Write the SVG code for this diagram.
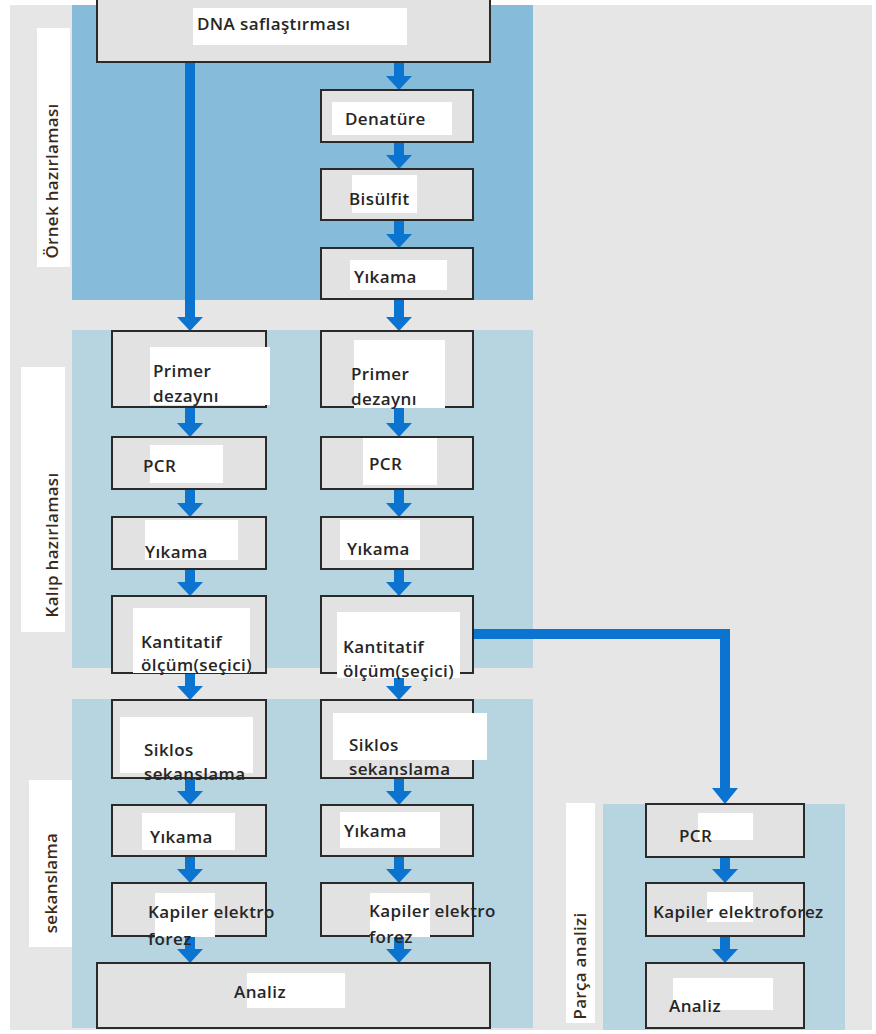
<svg xmlns="http://www.w3.org/2000/svg" width="876" height="1034" viewBox="0 0 876 1034">
<defs>
<style>
.bg{fill:#e6e6e6}
.p1{fill:#86bcd9}
.p2{fill:#b7d4e1}
.box{fill:#e2e2e2;stroke:#2a2a2a;stroke-width:2}
.patch{fill:#ffffff}
.t{font-family:"Open Sans","DejaVu Sans",sans-serif;font-size:17px;font-weight:600;letter-spacing:0.4px;fill:#262626}
.lab{font-family:"Open Sans","DejaVu Sans",sans-serif;font-size:17px;font-weight:600;letter-spacing:0.3px;fill:#3a2a1a}
.sh{stroke:#0b73d0;stroke-width:10;fill:none}
.hd{fill:#0b73d0}
</style>
</defs>
<rect x="0" y="0" width="876" height="1034" fill="#ffffff"/>
<rect class="bg" x="10" y="5" width="862" height="1025"/>
<g id="panels">
<rect class="p1" x="72" y="5" width="461" height="295"/>
<rect class="p2" x="72" y="330" width="461" height="338"/>
<rect class="p2" x="72" y="699" width="461" height="329"/>
<rect class="p2" x="603" y="804" width="242" height="226"/>
</g>
<g id="connectors">
<path class="sh" d="M190,62 V317"/><path class="hd" d="M177,317 H203 L190,331 Z"/>
<path class="sh" d="M399,62 V76"/><path class="hd" d="M386,76 H412 L399,90 Z"/>
<path class="sh" d="M399,142 V155"/><path class="hd" d="M386,155 H412 L399,169 Z"/>
<path class="sh" d="M399,220 V234"/><path class="hd" d="M386,234 H412 L399,248 Z"/>
<path class="sh" d="M399,299 V317"/><path class="hd" d="M386,317 H412 L399,331 Z"/>
<path class="sh" d="M190,407 V423"/><path class="hd" d="M177,423 H203 L190,437 Z"/>
<path class="sh" d="M399,407 V423"/><path class="hd" d="M386,423 H412 L399,437 Z"/>
<path class="sh" d="M190,489 V503"/><path class="hd" d="M177,503 H203 L190,517 Z"/>
<path class="sh" d="M399,489 V503"/><path class="hd" d="M386,503 H412 L399,517 Z"/>
<path class="sh" d="M190,569 V582"/><path class="hd" d="M177,582 H203 L190,596 Z"/>
<path class="sh" d="M399,569 V582"/><path class="hd" d="M386,582 H412 L399,596 Z"/>
<path class="sh" d="M190,673 V686"/><path class="hd" d="M177,686 H203 L190,700 Z"/>
<path class="sh" d="M399,673 V686"/><path class="hd" d="M386,686 H412 L399,700 Z"/>
<path class="sh" d="M190,778 V791"/><path class="hd" d="M177,791 H203 L190,805 Z"/>
<path class="sh" d="M399,778 V791"/><path class="hd" d="M386,791 H412 L399,805 Z"/>
<path class="sh" d="M190,856 V869"/><path class="hd" d="M177,869 H203 L190,883 Z"/>
<path class="sh" d="M399,856 V869"/><path class="hd" d="M386,869 H412 L399,883 Z"/>
<path class="sh" d="M190,936 V949"/><path class="hd" d="M177,949 H203 L190,963 Z"/>
<path class="sh" d="M399,936 V949"/><path class="hd" d="M386,949 H412 L399,963 Z"/>
<path class="sh" d="M473,634 H725 V788"/><path class="hd" d="M712,788 H738 L725,804 Z"/>
<path class="sh" d="M725,857 V869"/><path class="hd" d="M712,869 H738 L725,883 Z"/>
<path class="sh" d="M725,936 V949"/><path class="hd" d="M712,949 H738 L725,963 Z"/>
</g>
<g id="labels">
<rect class="patch" x="37" y="28" width="33" height="239"/>
<text class="lab" transform="translate(58,181) rotate(-90)" text-anchor="middle">Örnek hazırlaması</text>
<rect class="patch" x="21" y="367" width="44" height="265"/>
<text class="lab" transform="translate(58,545) rotate(-90)" text-anchor="middle">Kalıp hazırlaması</text>
<rect class="patch" x="29" y="780" width="43" height="167"/>
<text class="lab" transform="translate(57,883) rotate(-90)" text-anchor="middle">sekanslama</text>
<rect class="patch" x="566" y="803" width="29" height="220"/>
<text class="lab" transform="translate(586,966) rotate(-90)" text-anchor="middle">Parça analizi</text>
</g>
<g id="n-dna"><rect class="box" x="97" y="-4" width="393" height="66"/><rect class="patch" x="193" y="8" width="214" height="37"/><text class="t" x="197" y="30">DNA saflaştırması</text></g>
<g id="n-denature"><rect class="box" x="321" y="90" width="152" height="52"/><rect class="patch" x="332" y="102" width="120" height="33"/><text class="t" x="345" y="125">Denatüre</text></g>
<g id="n-bisulfit"><rect class="box" x="321" y="169" width="152" height="51"/><rect class="patch" x="352" y="175" width="65" height="38"/><text class="t" x="349" y="205">Bisülfit</text></g>
<g id="n-yikama1"><rect class="box" x="321" y="248" width="152" height="51"/><rect class="patch" x="350" y="260" width="97" height="30"/><text class="t" x="354" y="283">Yıkama</text></g>
<g id="n-primer-l"><rect class="box" x="112" y="331" width="154" height="76"/><rect class="patch" x="150" y="347" width="120" height="58"/><text class="t" x="153" y="377">Primer</text><text class="t" x="153" y="402">dezaynı</text></g>
<g id="n-primer-r"><rect class="box" x="321" y="331" width="152" height="76"/><rect class="patch" x="354" y="340" width="91" height="68"/><text class="t" x="351" y="380">Primer</text><text class="t" x="351" y="405">dezaynı</text></g>
<g id="n-pcr-l"><rect class="box" x="112" y="437" width="154" height="52"/><rect class="patch" x="150" y="445" width="73" height="38"/><text class="t" x="143" y="472">PCR</text></g>
<g id="n-pcr-r"><rect class="box" x="321" y="437" width="152" height="52"/><rect class="patch" x="363" y="438" width="74" height="47"/><text class="t" x="369" y="470">PCR</text></g>
<g id="n-yikama-l"><rect class="box" x="112" y="517" width="154" height="52"/><rect class="patch" x="145" y="520" width="93" height="40"/><text class="t" x="145" y="558">Yıkama</text></g>
<g id="n-yikama-r"><rect class="box" x="321" y="517" width="152" height="52"/><rect class="patch" x="340" y="520" width="80" height="40"/><text class="t" x="347" y="555">Yıkama</text></g>
<g id="n-kant-l"><rect class="box" x="112" y="596" width="154" height="77"/><rect class="patch" x="133" y="608" width="117" height="65"/><text class="t" x="141" y="648">Kantitatif</text><text class="t" x="141" y="671">ölçüm(seçici)</text></g>
<g id="n-kant-r"><rect class="box" x="321" y="596" width="152" height="77"/><rect class="patch" x="337" y="612" width="123" height="66"/><text class="t" x="343" y="653">Kantitatif</text><text class="t" x="343" y="677">ölçüm(seçici)</text></g>
<g id="n-siklos-l"><rect class="box" x="112" y="700" width="154" height="78"/><rect class="patch" x="120" y="717" width="133" height="56"/><text class="t" x="144" y="756">Siklos</text><text class="t" x="144" y="780">sekanslama</text></g>
<g id="n-siklos-r"><rect class="box" x="321" y="700" width="152" height="78"/><rect class="patch" x="333" y="713" width="154" height="47"/><text class="t" x="349" y="751">Siklos</text><text class="t" x="349" y="775">sekanslama</text></g>
<g id="n-yikama2-l"><rect class="box" x="112" y="805" width="154" height="51"/><rect class="patch" x="142" y="813" width="93" height="37"/><text class="t" x="150" y="843">Yıkama</text></g>
<g id="n-yikama2-r"><rect class="box" x="321" y="805" width="152" height="51"/><rect class="patch" x="340" y="812" width="100" height="36"/><text class="t" x="344" y="837">Yıkama</text></g>
<g id="n-kapiler-l"><rect class="box" x="112" y="883" width="154" height="53"/><rect class="patch" x="155" y="893" width="60" height="44"/><text class="t" x="148" y="918">Kapiler elektro</text><text class="t" x="148" y="945">forez</text></g>
<g id="n-kapiler-r"><rect class="box" x="321" y="883" width="152" height="53"/><rect class="patch" x="370" y="893" width="60" height="44"/><text class="t" x="369" y="917">Kapiler elektro</text><text class="t" x="369" y="943">forez</text></g>
<g id="n-analiz"><rect class="box" x="97" y="963" width="393" height="65"/><rect class="patch" x="247" y="973" width="98" height="35"/><text class="t" x="234" y="998">Analiz</text></g>
<g id="n-pcr-p"><rect class="box" x="646" y="804" width="158" height="53"/><rect class="patch" x="698" y="813" width="55" height="27"/><text class="t" x="679" y="842">PCR</text></g>
<g id="n-kapiler-p"><rect class="box" x="646" y="883" width="158" height="53"/><rect class="patch" x="707" y="892" width="46" height="30"/><text class="t" x="653" y="918">Kapiler elektroforez</text></g>
<g id="n-analiz-p"><rect class="box" x="646" y="963" width="158" height="65"/><rect class="patch" x="673" y="978" width="100" height="32"/><text class="t" x="669" y="1012">Analiz</text></g>
</svg>
